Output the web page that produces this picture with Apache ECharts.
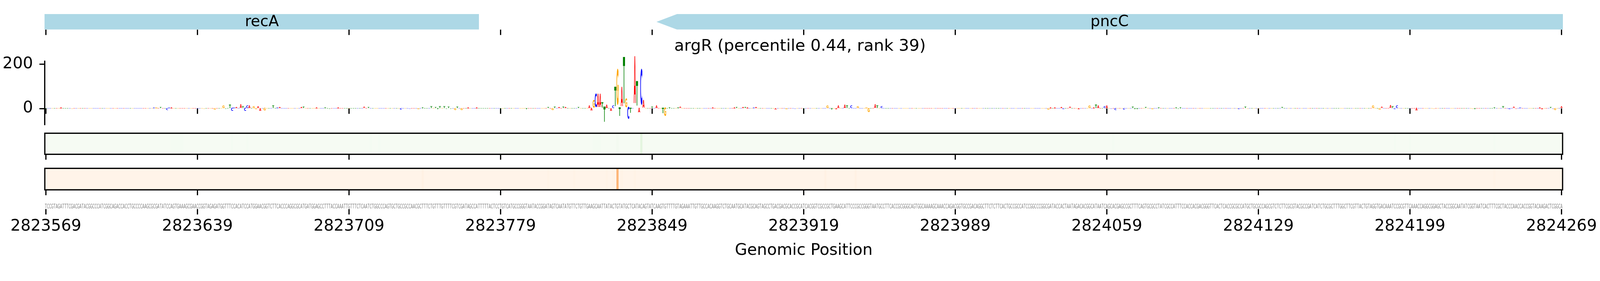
<!DOCTYPE html>
<html><head><meta charset="utf-8">
<script src="https://cdn.jsdelivr.net/npm/echarts@6.0.0/dist/echarts.min.js"></script>
<style>html,body{margin:0;padding:0;background:#fff;overflow:hidden}#c{position:absolute;left:0;top:0}</style>
</head><body><div id="c"></div><script>
// ---------------- data ----------------
const windowStart = 2823569;
const windowEnd = 2824269;
const tickPositions = [2823569, 2823639, 2823709, 2823779, 2823849, 2823919, 2823989, 2824059, 2824129, 2824199, 2824269];
const yTicks = [0, 200];
const titleText = 'argR (percentile 0.44, rank 39)';
const xAxisName = 'Genomic Position';

const geneNames = ['recA', 'pncC'];
const geneStarts = [2822708, 2823851];
const geneEnds = [2823769, 2824349];
const geneStrands = [-1, -1];

const sequenceParts = [
  'TCCGTAGATTTCGACGATACGGCCCATCGGCAGACCA',
  'CCTGCCCCAAGCGCGATATCCAGTGAAA',
  'GCGAACCGGTAGAGATGGTTTCCACATCCAT',
  'GGAACGGTCTTCACCCAGGCGCATGAT',
  'GGAGCCTTTACCAAATTGTTTCTCAAT',
  'CTGGCCCAGTGCTGCCGCCAACGCTTT',
  'CTGTTTGTTTTCGTCGATAGCCAT',
  'TTTTACTCCTGTCATGCC',
  'GGGTAATACCGGATAGTCAATATGTTCTGTTGAAGCAATTATACTGTATGCTCATACAGTATCAAGTGTTTTGTAGAAATTGTTGCCACAAGGTCTGCAATGCATACGCAGTAGCCTGAC',
  'GACGCACCGCATCACGGTCGCCGCTGAAGCATTCCCGCCGGGTAATGCCTTCACCGCGGGCAGTGGCAAAAGCAAACCAGACGGTGCCGACAGGCTTCTCTTCACTGCCGCCATCCGGC',
  'CCGGCGATACCACTAATAGACACGGCATAATCAGCACGAGCCGCTTTCAGTGCGCCTATCGCCATTTCCACCACGACGGGTTCACTCACCGCGCCATGCTGCGCCAGCGTCTCTTCGCGT',
  'ACGCCGATCATCTGCGCTTTGGCTTCGTTACTGTAGGTGACAAATCCGCGTTCAAACCAGGCGGAGCTACCGGCAATATCGGTAATCACTTTCGCTACCCAACCACCGGTACAAGACTCGGCA'
];
const sequence = sequenceParts.join('');

// attribution height of each position's base (logo), index 0 = windowStart
const logoValues = [
  1,1,1,1,2,1,2,4,1,3,
  1,2,-2,1,1,1,2,3,1,2,
  1,1,2,1,2,1,3,2,3,2,
  1,3,1,1,2,1,1,2,1,1,
  1,1,1,2,1,1,1,3,2,2,
  4,4,3,5,1,2,-8,4,4,1,
  2,1,1,1,1,1,3,1,3,1,
  3,3,3,-3,2,1,1,3,-7,1,
  1,3,10,-3,3,16,-13,4,5,1,
  19,8,-13,12,11,1,8,-5,8,-12,
  3,-10,2,3,2,12,1,4,5,2,
  2,1,1,1,1,3,1,3,5,6,
  1,2,3,2,3,4,2,3,2,4,
  3,-2,1,3,3,4,1,1,2,1,
  1,2,1,1,2,2,1,7,2,5,
  1,2,2,1,3,2,3,2,3,2,
  2,1,2,1,-6,2,1,3,-3,2,
  1,1,-4,2,4,1,2,2,9,2,
  5,-5,8,2,8,-3,7,-3,3,-8,
  6,2,-8,1,1,4,1,2,2,4,
  1,2,3,3,2,1,3,3,1,2,
  1,1,1,1,1,1,1,1,1,1,
  2,1,-4,1,3,3,1,2,1,3,
  1,3,5,2,-8,7,1,5,1,6,
  5,2,2,2,2,2,5,1,2,1,
  2,12,-10,33,58,58,58,25,-68,15,
  2,-12,12,87,158,-38,87,208,40,-52,
  -22,3,211,109,-21,158,33,3,3,2,
  7,1,12,2,1,-25,-38,2,4,1,
  2,1,4,6,1,1,1,2,1,1,
  2,1,1,1,1,1,2,1,4,1,
  3,1,2,1,1,2,1,2,4,5,
  1,2,5,5,4,1,1,4,5,1,
  1,3,1,1,1,1,1,-7,2,2,
  3,1,-4,1,3,3,-3,1,1,3,
  1,3,3,2,1,1,1,1,2,3,
  1,12,1,-6,1,-5,12,2,2,15,
  10,1,12,3,2,8,2,1,2,4,
  -18,1,3,18,10,1,8,2,2,1,
  1,1,2,1,1,2,2,1,1,2,
  3,2,2,3,1,2,1,3,1,1,
  2,1,3,1,1,2,1,1,1,1,
  2,2,1,1,1,1,1,1,1,1,
  1,2,2,1,1,1,1,1,1,2,
  1,2,1,1,1,1,1,1,1,1,
  1,1,1,1,1,1,1,1,2,1,
  2,3,1,-6,4,1,4,2,1,5,
  -4,1,2,7,1,3,1,-5,3,1,
  2,1,12,2,4,15,10,3,1,8,
  12,1,-3,1,-8,1,1,1,-7,2,
  3,1,6,-4,-4,1,1,1,5,1,
  1,-5,1,1,4,3,1,3,1,1,
  1,1,4,-3,4,2,3,1,2,3,
  1,1,1,1,1,1,1,1,3,1,
  1,3,2,1,1,3,2,1,1,2,
  1,-4,1,1,6,-3,1,1,1,1,
  1,2,1,1,1,2,1,3,1,1,
  2,5,1,1,2,1,1,1,1,1,
  1,1,1,1,1,1,1,1,1,2,
  1,1,1,1,1,2,1,1,1,2,
  1,2,1,2,1,2,3,1,1,3,
  1,2,3,10,1,1,-6,6,2,1,
  1,14,8,-5,10,2,1,2,1,2,
  1,3,2,-10,3,2,2,1,2,1,
  3,-3,2,1,2,1,2,2,1,1,
  1,3,3,2,1,1,3,2,3,-3,
  -4,3,1,1,1,3,1,1,1,4,
  3,1,1,8,3,2,-4,2,6,-3,
  1,4,1,1,1,1,1,1,3,1,
  4,-4,3,1,1,5,-3,-8,2,2,
  8
];

// green heat track, percent (0-100)
const greenTrack = [
  1,1,1,1,1,1,1,1,1,1, 1,1,1,1,1,1,1,1,1,1,
  1,1,1,1,1,1,1,1,1,1, 1,1,1,1,1,1,1,1,1,1,
  1,1,1,1,1,1,1,1,1,1, 1,1,1,1,1,1,1,1,2,2,
  2,2,2,2,1,1,1,1,1,1, 1,1,1,1,1,1,1,1,1,1,
  1,1,1,1,1,1,2,1,1,1, 1,1,1,2,1,1,1,1,1,1,
  1,1,1,1,1,1,1,1,1,1, 1,1,1,1,1,1,1,1,1,1,
  1,1,1,1,1,1,1,1,1,1, 1,1,1,1,1,1,1,1,1,1,
  1,1,1,1,1,1,1,1,1,1, 2,1,1,1,2,1,1,1,1,1,
  1,1,1,1,1,1,1,1,1,1, 1,1,1,1,1,1,1,1,1,1,
  1,1,1,1,1,1,1,1,1,1, 1,1,1,1,1,1,1,1,1,1,
  1,1,1,1,1,1,1,1,1,1, 1,1,1,1,1,1,1,1,1,1,
  1,1,1,1,1,1,1,1,1,1, 1,1,1,1,1,1,1,1,1,1,
  1,1,1,1,1,1,1,1,1,1, 1,1,1,2,2,2,2,1,1,1,
  1,1,1,1,3,1,1,1,1,1, 1,1,1,1,1,13,1,1,1,1,
  1,1,1,1,1,1,1,1,1,1, 1,1,1,1,1,1,1,1,1,1,
  1,1,1,1,1,1,1,1,1,1, 1,1,1,1,1,1,1,1,1,1,
  1,1,1,1,1,1,1,1,1,1, 1,1,1,1,1,1,1,1,1,1,
  1,1,1,1,1,1,1,1,1,1, 1,1,1,1,1,1,1,1,1,1,
  1,1,1,1,1,1,1,1,1,1, 1,1,1,1,1,1,1,1,1,1,
  1,1,1,1,1,1,1,1,1,1, 1,1,1,1,1,1,1,1,1,1,
  1,1,1,1,1,1,1,1,1,1, 1,1,1,1,1,1,1,1,1,1,
  1,1,1,1,1,1,1,1,1,1, 1,1,1,1,1,1,1,1,1,1,
  1,1,1,1,1,1,1,1,1,1, 1,1,1,1,1,1,1,1,1,1,
  1,1,1,1,1,1,1,1,1,1, 1,1,1,1,1,1,1,1,1,1,
  1,1,1,1,1,1,1,1,1,1, 1,1,1,2,1,1,1,1,1,1,
  1,1,1,1,1,1,1,1,1,1, 1,1,1,1,1,1,1,1,1,1,
  1,1,1,1,1,1,1,1,1,1, 1,1,1,1,1,1,1,1,1,1,
  1,1,1,1,1,1,1,1,1,1, 1,1,1,1,1,1,1,1,1,1,
  1,1,1,1,1,1,1,1,1,1, 1,1,1,1,1,1,1,1,1,1,
  1,1,1,1,1,1,1,1,1,1, 1,1,1,1,1,1,1,1,1,1,
  1,1,1,1,1,1,1,1,1,1, 1,1,1,1,1,1,1,1,1,1,
  1,1,1,2,1,1,1,1,1,1, 2,1,1,1,1,1,1,1,1,1,
  1,1,1,1,1,1,1,1,1,1, 1,1,1,1,1,1,1,1,1,1,
  1,1,1,1,1,1,1,1,1,2, 1,1,1,1,1,1,1,1,1,1,
  1,1,1,1,1,1,1,1,1,1, 1,1,1,1,1,1,1,1,1,1,
  1
];

// orange heat track, percent (0-100)
const orangeTrack = [
  1,1,1,1,1,1,1,1,1,1, 1,1,1,1,1,1,1,1,1,1,
  1,1,1,1,1,1,1,1,1,1, 1,1,1,1,1,1,1,1,1,1,
  1,1,1,1,1,1,1,1,1,1, 1,1,1,1,1,1,1,1,1,1,
  1,1,1,1,1,1,1,1,1,1, 1,1,1,1,1,1,1,1,1,1,
  1,1,1,1,1,1,1,1,1,1, 1,1,1,1,1,1,1,1,1,1,
  1,1,1,1,1,1,1,1,1,1, 1,1,1,1,1,1,1,1,1,1,
  1,1,1,1,1,1,1,1,1,1, 1,1,1,1,1,1,1,1,1,1,
  1,1,1,1,1,1,1,1,1,1, 1,1,1,1,1,1,1,1,1,1,
  1,1,1,1,1,1,1,1,1,1, 1,1,1,1,3,1,1,1,1,1,
  1,1,1,1,1,1,1,1,1,1, 1,1,1,1,1,1,1,1,1,1,
  1,1,1,1,1,1,1,1,1,1, 1,1,1,1,1,1,1,1,1,1,
  1,1,1,1,1,1,1,1,1,1, 1,1,2,1,1,1,1,1,1,1,
  1,1,1,1,2,1,1,1,1,1, 1,1,1,1,1,1,1,1,1,2,
  1,1,2,1,35,1,2,1,1,1, 1,1,2,1,1,1,1,1,1,1,
  1,1,1,1,1,1,1,1,1,1, 1,1,1,1,1,1,1,1,1,1,
  1,1,1,1,1,1,1,1,1,1, 1,1,1,1,1,1,1,1,1,1,
  1,1,1,1,1,1,1,1,1,1, 1,1,1,1,1,1,1,1,1,1,
  1,1,1,1,1,1,1,1,1,1, 1,1,1,1,1,1,1,1,1,1,
  3,1,1,1,1,1,1,1,1,1, 1,1,1,1,3,1,1,1,1,1,
  1,1,1,1,1,1,1,1,1,1, 1,1,1,1,1,1,1,1,1,1,
  1,1,1,1,1,1,1,1,1,1, 1,1,1,1,1,1,1,1,1,1,
  1,1,1,1,1,1,1,1,1,1, 1,1,1,1,1,1,1,1,1,1,
  1,1,1,1,1,1,1,1,1,1, 1,1,1,1,1,1,1,1,1,1,
  1,1,1,1,1,1,1,1,1,1, 1,1,1,1,1,1,1,1,1,1,
  1,1,1,1,1,1,1,1,1,1, 1,1,1,1,1,1,1,1,1,1,
  1,1,1,1,1,1,1,1,1,1, 1,1,1,1,1,1,1,1,1,1,
  1,1,1,1,1,1,1,1,1,1, 1,1,1,1,1,1,1,1,1,1,
  1,1,1,1,1,1,1,1,1,1, 1,1,1,1,1,1,1,1,1,1,
  1,1,1,1,1,1,1,1,1,1, 1,1,1,1,1,1,1,1,1,1,
  1,1,1,1,1,1,1,1,1,1, 1,1,1,1,1,1,1,1,1,1,
  1,1,1,1,1,1,1,1,1,1, 1,1,1,1,1,1,1,1,1,1,
  1,1,1,1,1,1,1,1,1,1, 1,1,1,1,1,1,1,1,1,1,
  1,1,1,1,1,1,1,1,1,1, 1,1,1,1,1,1,1,1,1,1,
  1,1,1,1,1,1,1,1,1,2, 1,1,1,1,1,1,1,1,1,1,
  1,1,1,1,1,1,1,1,1,1, 1,1,1,1,1,1,1,1,1,1,
  1
];

// ---------------- layout / styles ----------------
const VW = window.innerWidth || 4320;
const VH = window.innerHeight || 720;
const S = Math.min(VW / 4320, VH / 720);
const px = v => v * S;
const el = document.getElementById('c');
el.style.width = Math.round(4320 * S) + 'px';
el.style.height = Math.round(720 * S) + 'px';

const FONT = 'DejaVu Sans';
const baseColors = { A: '#ff0000', C: '#0000ff', G: '#ffa500', T: '#008000' };
const inkWidth = { A: 0.77, C: 0.64, G: 0.70, T: 0.68 };
const CAP = 0.729;
const GREENS = ['#f7fcf5','#e5f5e0','#c7e9c0','#a1d99b','#74c476','#41ab5d','#238b45','#006d2c','#00441b'];
const ORANGES = ['#fff5eb','#fee6ce','#fdd0a2','#fdae6b','#fd8d3c','#f16913','#d94801','#a63603','#7f2704'];
const LW = px(3.3), TL = px(14.6), FS = px(43);
const xMin = windowStart - 0.5, xMax = windowEnd + 0.5;

const positions = logoValues.map((v, i) => windowStart + i);
const logoData = logoValues.map((v, i) => [positions[i], v]);
const seqData = positions.map(p => [p, 0.5]);
const greenData = greenTrack.map((v, i) => [positions[i], v / 100]);
const orangeData = orangeTrack.map((v, i) => [positions[i], v / 100]);
const geneData = geneNames.map((n, i) => [geneStarts[i], geneEnds[i], geneStrands[i]]);

const gridBase = { left: px(121), right: px(101), containLabel: false };
const boxed = { show: true, borderColor: '#000', borderWidth: LW, backgroundColor: 'transparent', z: 5 };
const grids = [
  Object.assign({}, gridBase, { top: px(38), height: px(42) }),
  Object.assign({}, gridBase, { top: px(165), height: px(172) }),
  Object.assign({}, gridBase, boxed, { top: px(360), height: px(57) }),
  Object.assign({}, gridBase, boxed, { top: px(455), height: px(58) }),
  Object.assign({}, gridBase, { top: px(553), height: px(12) })
];

const xAxes = grids.map((g, k) => ({
  type: 'value', gridIndex: k, min: xMin, max: xMax,
  axisLine: { show: false },
  splitLine: { show: false },
  axisTick: { show: true, inside: false, length: TL, lineStyle: { width: LW, color: '#000' }, customValues: tickPositions },
  axisLabel: {
    show: k === 4, customValues: tickPositions, margin: px(26),
    fontSize: FS, fontFamily: FONT, color: '#000',
    formatter: v => String(Math.round(v))
  },
  name: k === 4 ? xAxisName : '',
  nameLocation: 'middle', nameGap: px(91),
  nameTextStyle: { fontSize: FS, fontFamily: FONT, color: '#000' }
}));

const hiddenY = k => ({ type: 'value', gridIndex: k, min: 0, max: 1, show: false });
const yAxes = [
  hiddenY(0),
  {
    type: 'value', gridIndex: 1, min: -73.3, max: 213.3,
    axisLine: { show: true, lineStyle: { width: LW, color: '#000' } },
    axisTick: { show: true, inside: false, length: TL, lineStyle: { width: LW, color: '#000' }, customValues: yTicks },
    axisLabel: { customValues: yTicks, margin: px(32), fontSize: FS, fontFamily: FONT, color: '#000' },
    splitLine: { show: false }
  },
  hiddenY(2), hiddenY(3), hiddenY(4)
];

function heatItem(params, api) {
  const p = api.value(0);
  const a = api.coord([p - 0.5, 1]);
  const b = api.coord([p + 0.5, 0]);
  return { type: 'rect', shape: { x: a[0], y: a[1], width: b[0] - a[0] + 0.6, height: b[1] - a[1] },
    style: { fill: api.visual('color') } };
}

const option = {
  animation: false,
  backgroundColor: '#ffffff',
  title: { text: titleText, left: 'center', top: px(104), padding: 0,
    textStyle: { fontSize: px(44), fontWeight: 'normal', fontFamily: FONT, color: '#000' } },
  grid: grids,
  xAxis: xAxes,
  yAxis: yAxes,
  visualMap: [
    { type: 'continuous', show: false, seriesIndex: 2, dimension: 1, min: 0, max: 1, inRange: { color: GREENS } },
    { type: 'continuous', show: false, seriesIndex: 3, dimension: 1, min: 0, max: 1, inRange: { color: ORANGES } }
  ],
  series: [
    { // genes
      type: 'custom', xAxisIndex: 0, yAxisIndex: 0, clip: true, data: geneData,
      renderItem(params, api) {
        const i = params.dataIndex;
        const s = api.value(0), e = api.value(1), strand = api.value(2);
        const head = 9.5;
        let pts;
        if (strand < 0) pts = [[s, 0.5], [s + head, 1], [e, 1], [e, 0], [s + head, 0]];
        else pts = [[s, 1], [e - head, 1], [e, 0.5], [e - head, 0], [s, 0]];
        const pp = pts.map(q => api.coord(q));
        const vs = Math.max(s, xMin), ve = Math.min(e, xMax);
        const c = api.coord([(vs + ve) / 2, 0.5]);
        return { type: 'group', children: [
          { type: 'polygon', shape: { points: pp }, style: { fill: '#add8e6' } },
          { type: 'text', x: c[0], y: c[1] + px(1), style: { text: geneNames[i], fontSize: px(41), fontFamily: FONT, fill: '#000', align: 'center', verticalAlign: 'middle' } }
        ] };
      }
    },
    { // logo
      type: 'custom', xAxisIndex: 1, yAxisIndex: 1, clip: false, data: logoData,
      renderItem(params, api) {
        const i = params.dataIndex;
        const p = api.value(0), v = api.value(1);
        const L = sequence[i] || 'N';
        const a = api.coord([p - 0.48, 0]);
        const b = api.coord([p + 0.48, v]);
        const w = b[0] - a[0];
        const h = Math.abs(b[1] - a[1]);
        const F = 100;
        const sx = w / ((inkWidth[L] || 0.7) * F);
        const sy = Math.max(h, 0.05) / (CAP * F);
        const cy = (a[1] + b[1]) / 2 + 0.018 * F * sy;
        return { type: 'text', x: (a[0] + b[0]) / 2, y: cy, scaleX: sx, scaleY: sy,
          style: { text: L, fontSize: F, fontFamily: FONT, fontWeight: 'bold', fill: baseColors[L] || '#888', align: 'center', verticalAlign: 'middle' } };
      }
    },
    { type: 'custom', xAxisIndex: 2, yAxisIndex: 2, data: greenData, renderItem: heatItem },
    { type: 'custom', xAxisIndex: 3, yAxisIndex: 3, data: orangeData, renderItem: heatItem },
    { // sequence text
      type: 'custom', xAxisIndex: 4, yAxisIndex: 4, clip: false, data: seqData,
      renderItem(params, api) {
        const i = params.dataIndex;
        const c = api.coord([api.value(0), api.value(1)]);
        return { type: 'text', x: c[0], y: c[1], scaleX: 0.47, scaleY: 1,
          style: { text: sequence[i] || '', fontSize: px(17.5), fontFamily: FONT, fill: '#808080', align: 'center', verticalAlign: 'middle' } };
      }
    }
  ]
};

const chart = echarts.init(el, null, { renderer: 'canvas' });
chart.setOption(option);
</script></body></html>
